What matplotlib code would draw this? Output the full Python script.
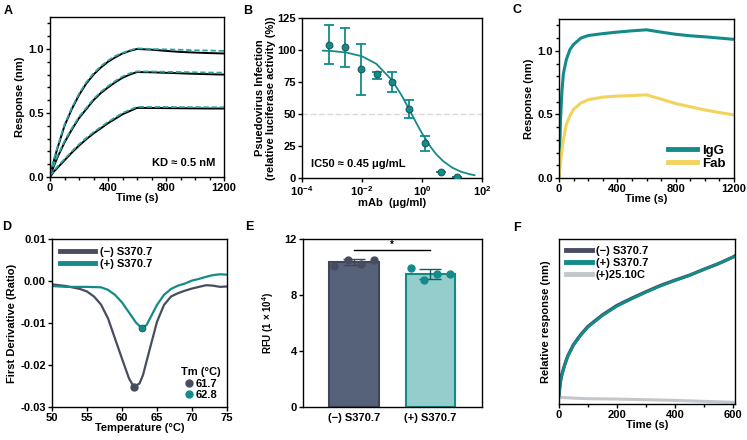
import numpy as np
import matplotlib
matplotlib.use("Agg")
import matplotlib.pyplot as plt
from matplotlib.lines import Line2D
from matplotlib.ticker import MultipleLocator

plt.rcParams['font.family'] = ['Liberation Sans', 'DejaVu Sans']
plt.rcParams['font.weight'] = 'bold'
plt.rcParams['axes.labelweight'] = 'bold'
plt.rcParams['font.size'] = 8
plt.rcParams['mathtext.fontset'] = 'custom'
plt.rcParams['mathtext.rm'] = 'Liberation Sans:bold'
plt.rcParams['mathtext.it'] = 'Liberation Sans:bold'
plt.rcParams['mathtext.bf'] = 'Liberation Sans:bold'
plt.rcParams['axes.linewidth'] = 1.0

TEAL = '#138b8a'
SLATE = '#474d5e'
FAB = '#f3d35c'
GREY = '#c2c7cb'
FS = 8

# ---- A: binding kinetics, data + fits
tA = [0, 25, 50, 100, 150, 200, 250, 300, 350, 400, 450, 500, 550, 600,
      700, 800, 900, 1000, 1100, 1200]
hi_data = [0, 0.12, 0.22, 0.40, 0.53, 0.64, 0.73, 0.80, 0.855, 0.90, 0.935, 0.965, 0.985, 1.0,
           0.995, 0.985, 0.977, 0.972, 0.968, 0.965]
hi_fit = [0.02, 0.13, 0.23, 0.41, 0.54, 0.65, 0.74, 0.81, 0.865, 0.91, 0.945, 0.97, 0.99, 1.005,
          1.0, 0.997, 0.994, 0.99, 0.988, 0.985]
mid_data = [0, 0.08, 0.15, 0.27, 0.37, 0.46, 0.53, 0.60, 0.655, 0.70, 0.74, 0.775, 0.80, 0.82,
            0.818, 0.814, 0.81, 0.806, 0.803, 0.80]
mid_fit = [0.02, 0.09, 0.16, 0.28, 0.38, 0.47, 0.54, 0.61, 0.665, 0.71, 0.75, 0.785, 0.81, 0.825,
           0.824, 0.822, 0.82, 0.818, 0.816, 0.815]
lo_data = [0, 0.04, 0.07, 0.13, 0.19, 0.245, 0.295, 0.34, 0.38, 0.42, 0.455, 0.49, 0.515, 0.54,
           0.539, 0.538, 0.537, 0.536, 0.535, 0.535]
lo_fit = [0.01, 0.045, 0.08, 0.14, 0.20, 0.255, 0.305, 0.35, 0.39, 0.43, 0.465, 0.50, 0.525, 0.548,
          0.547, 0.547, 0.546, 0.546, 0.545, 0.545]

# ---- B: neutralisation
conc = [8e-4, 2.7e-3, 9.3e-3, 0.032, 0.10, 0.37, 1.26, 4.3, 14.8]
infect = [104, 102, 85, 81, 75, 53.6, 27, 5, 1]
err_lo = [15, 15, 20, 4, 7.5, 7, 6, 0, 0]
err_hi = [15.5, 15, 20, 2, 7.5, 7.5, 5.5, 0, 0]
fit_x = [5e-4, 1e-3, 3e-3, 1e-2, 3e-2, 0.1, 0.2, 0.3, 0.45, 0.7, 1, 2, 3, 5, 10, 20, 40, 56]
fit_y = [99.5, 99.2, 98.0, 95.1, 89.2, 76.4, 65.3, 57.8, 50, 41.5, 34.9, 23.8, 18.5, 13.3,
         8.2, 4.9, 2.9, 2.2]

# ---- C: IgG vs Fab
tC = [0, 10, 20, 30, 50, 75, 100, 150, 200, 300, 400, 500, 600, 700, 800, 900, 1000, 1100, 1200]
igg = [0, 0.45, 0.68, 0.82, 0.93, 1.01, 1.05, 1.10, 1.12, 1.135, 1.147, 1.157, 1.165,
       1.147, 1.13, 1.118, 1.11, 1.10, 1.09]
fab = [0, 0.12, 0.22, 0.30, 0.42, 0.49, 0.54, 0.59, 0.615, 0.636, 0.644, 0.648, 0.654,
       0.62, 0.585, 0.56, 0.535, 0.515, 0.495]

# ---- D: thermal shift first derivative
tempD_neg = [50, 52, 54, 55, 56, 57, 58, 59, 60, 61, 61.7, 62.5, 63, 64, 65, 66, 67, 68,
             69, 70, 71, 72, 73, 74, 75]
deriv_neg = [-0.0008, -0.0012, -0.0019, -0.0025, -0.0037, -0.0056, -0.0089, -0.0137, -0.0185,
             -0.0232, -0.0252, -0.0244, -0.0224, -0.016, -0.0097, -0.0057, -0.0037, -0.0029,
             -0.0023, -0.0018, -0.0014, -0.001, -0.0011, -0.0014, -0.0013]
tempD_pos = [50, 52, 55, 57, 58, 59, 60, 61, 62, 62.8, 63.5, 64, 65, 66, 67, 68, 69, 70,
             71, 72, 73, 74, 75]
deriv_pos = [-0.0012, -0.0014, -0.0014, -0.0015, -0.0021, -0.0033, -0.0051, -0.0075, -0.0099,
             -0.0112, -0.0105, -0.0089, -0.0057, -0.0033, -0.0019, -0.0011, -0.0006, 0.0001,
             0.0005, 0.001, 0.0014, 0.0016, 0.0015]
tm_vals = [61.7, 62.8]
tm_depth = [-0.0252, -0.0112]

# ---- E: RFU bars
groups = ['(\u2212) S370.7', '(+) S370.7']
rfu_mean = [10.33, 9.48]
rfu_sd = [0.22, 0.37]
rfu_pts = [[10.07, 10.52, 10.21, 10.52], [9.90, 9.07, 9.47, 9.47]]

# ---- F: relative response
tF = [0, 5, 10, 20, 30, 50, 75, 100, 150, 200, 250, 300, 350, 400, 450, 500, 550, 600, 610]
resp_neg = [0.056, 0.137, 0.18, 0.24, 0.29, 0.36, 0.42, 0.47, 0.54, 0.597, 0.64, 0.68,
            0.718, 0.75, 0.78, 0.816, 0.85, 0.89, 0.90]
resp_pos = [0.056, 0.135, 0.178, 0.237, 0.287, 0.356, 0.416, 0.466, 0.536, 0.593, 0.636, 0.677,
            0.715, 0.748, 0.779, 0.815, 0.85, 0.889, 0.899]
tF_ctrl = [0, 100, 200, 300, 400, 500, 610]
resp_ctrl = [0.04, 0.032, 0.03, 0.026, 0.022, 0.016, 0.01]

W, H = 747, 440
fig = plt.figure(figsize=(W / 100, H / 100), dpi=100)


def ax_px(l, t, r, b):
    ax = fig.add_axes([l / W, 1 - b / H, (r - l) / W, (b - t) / H])
    ax.tick_params(direction='out', length=3, width=1.0, labelsize=FS, pad=1.5)
    ax.tick_params(which='minor', direction='out', length=2, width=1.0)
    return ax


# A
ax = ax_px(50, 17, 224, 177)
for d, f in [(hi_data, hi_fit), (mid_data, mid_fit), (lo_data, lo_fit)]:
    ax.plot(tA, d, color='black', lw=1.4)
    ax.plot(tA, f, color='#2fa5a3', lw=1.3, ls=(0, (3, 1.5)))
ax.set_xlim(0, 1200)
ax.set_ylim(0, 1.25)
ax.set_xticks([0, 400, 800, 1200])
ax.set_yticks([0, 0.5, 1.0])
ax.xaxis.set_minor_locator(MultipleLocator(100))
ax.yaxis.set_minor_locator(MultipleLocator(0.1))
ax.set_xlabel('Time (s)', fontsize=FS, labelpad=0)
ax.set_ylabel('Response (nm)', fontsize=FS, labelpad=2)
ax.text(0.95, 0.085, 'KD \u2248 0.5 nM', transform=ax.transAxes, ha='right', va='center', fontsize=FS)

# B
ax = ax_px(302, 18, 482, 178)
ax.axhline(50, color='#d9d9d9', lw=1, ls=(0, (4, 2)), zorder=0)
ax.plot(fit_x, fit_y, color=TEAL, lw=1.3)
ax.errorbar(conc, infect, yerr=[err_lo, err_hi], fmt='none', ecolor=TEAL, elinewidth=1.3,
            capsize=3.5, capthick=1.3)
ax.plot(conc, infect, 'o', color=TEAL, mec='#0c4f4e', mew=0.6, ms=5, zorder=4)
ax.set_xscale('log')
ax.set_xlim(1e-4, 1e2)
ax.set_ylim(0, 125)
ax.set_xticks([1e-4, 1e-2, 1, 1e2])
ax.set_xticklabels([r'$10^{-4}$', r'$10^{-2}$', r'$10^{0}$', r'$10^{2}$'])
ax.xaxis.set_minor_locator(matplotlib.ticker.NullLocator())
ax.set_yticks([0, 25, 50, 75, 100, 125])
ax.set_xlabel('mAb  (\u03bcg/ml)', fontsize=FS, labelpad=0)
ax.set_ylabel('Psuedovirus Infection\n(relative luciferase activity (%))', fontsize=FS,
              labelpad=1, linespacing=1.1)
ax.text(0.05, 0.09, 'IC50 \u2248 0.45 \u03bcg/mL', transform=ax.transAxes, ha='left', va='center',
        fontsize=FS)

# C
ax = ax_px(559, 19, 734, 178)
ax.plot(tC, igg, color=TEAL, lw=2.2, label='IgG')
ax.plot(tC, fab, color=FAB, lw=2.2, label='Fab')
ax.set_xlim(0, 1200)
ax.set_ylim(0, 1.25)
ax.set_xticks([0, 400, 800, 1200])
ax.set_yticks([0, 0.5, 1.0])
ax.xaxis.set_minor_locator(MultipleLocator(100))
ax.yaxis.set_minor_locator(MultipleLocator(0.1))
ax.set_xlabel('Time (s)', fontsize=FS, labelpad=0)
ax.set_ylabel('Response (nm)', fontsize=FS, labelpad=2)
leg = ax.legend(loc='lower right', frameon=False, fontsize=9.5, handlelength=2.2,
                handletextpad=0.4, borderaxespad=0.2, labelspacing=0.1)
for h in leg.get_lines():
    h.set_linewidth(3.5)

# D
ax = ax_px(52, 239, 227, 407)
ax.plot(tempD_neg, deriv_neg, color=SLATE, lw=1.6)
ax.plot(tempD_pos, deriv_pos, color=TEAL, lw=1.6)
ax.plot(tm_vals[0], tm_depth[0], 'o', color=SLATE, ms=5, zorder=4)
ax.plot(tm_vals[1], tm_depth[1], 'o', color=TEAL, mec='#0c4f4e', mew=0.5, ms=5, zorder=4)
ax.set_xlim(50, 75)
ax.set_ylim(-0.03, 0.01)
ax.set_xticks([50, 55, 60, 65, 70, 75])
ax.set_yticks([0.01, 0, -0.01, -0.02, -0.03])
ax.set_yticklabels(['0.01', '0.00', '-0.01', '-0.02', '-0.03'])
ax.set_xlabel('Temperature (\u00b0C)', fontsize=FS, labelpad=0)
ax.set_ylabel('First Derivative (Ratio)', fontsize=FS, labelpad=2)
h1 = [Line2D([], [], color=SLATE, lw=3.5), Line2D([], [], color=TEAL, lw=3.5)]
l1 = ax.legend(h1, ['(\u2212) S370.7', '(+) S370.7'], loc='upper left', frameon=False,
               fontsize=FS, handlelength=3.2, handletextpad=0.4, borderaxespad=0.3,
               labelspacing=0.2)
ax.add_artist(l1)
h2 = [Line2D([], [], ls='none', marker='o', color=SLATE, ms=5),
      Line2D([], [], ls='none', marker='o', color=TEAL, ms=5)]
l2 = ax.legend(h2, ['%.1f' % v for v in tm_vals], loc='lower right', frameon=False,
               fontsize=FS, title='Tm (\u00b0C)', title_fontsize=FS, handlelength=0.8,
               handletextpad=0.2, borderaxespad=0.2, labelspacing=0.15)
l2.get_title().set_fontweight('bold')

# E
ax = ax_px(303, 239, 482, 407)
xpos = np.arange(len(groups))
ax.bar(xpos, rfu_mean, width=0.65, color=['#56627a', '#94cdcb'],
       edgecolor=['#3e4659', TEAL], linewidth=1.5, zorder=1)
for i in range(len(groups)):
    ax.errorbar(xpos[i], rfu_mean[i], yerr=rfu_sd[i], fmt='none',
                ecolor=['#3e4659', '#0e5f5e'][i], elinewidth=1.0, capsize=8, capthick=1.0, zorder=3)
    ax.plot(xpos[i] + np.linspace(-0.26, 0.26, 4), rfu_pts[i], 'o',
            color=[SLATE, TEAL][i], ms=5, zorder=4)
ax.plot([0, 1], [11.25, 11.25], color='black', lw=1)
ax.text(0.5, 11.2, '*', ha='center', va='bottom', fontsize=7)
ax.set_xlim(-0.67, 1.675)
ax.set_ylim(0, 12)
ax.set_yticks([0, 4, 8, 12])
ax.set_xticks(xpos)
ax.set_xticklabels(groups, fontsize=FS)
ax.tick_params(axis='x', length=0, pad=4)
ax.set_ylabel('RFU (1 \u00d7 10$^4$)', fontsize=7, labelpad=6)

# F
ax = ax_px(559, 239, 735, 404)
ax.plot(tF_ctrl, resp_ctrl, color=GREY, lw=2.2, label='(+)25.10C')
ax.plot(tF, resp_neg, color=SLATE, lw=2.4, label='(\u2212) S370.7')
ax.plot(tF, resp_pos, color=TEAL, lw=2.0, label='(+) S370.7')
ax.set_xlim(0, 608)
ax.set_ylim(0, 1)
ax.set_yticks([])
ax.set_xticks([0, 200, 400, 600])
ax.xaxis.set_minor_locator(MultipleLocator(100))
ax.set_xlabel('Time (s)', fontsize=FS, labelpad=0)
ax.set_ylabel('Relative response (nm)', fontsize=FS, labelpad=6)
hs = [Line2D([], [], color=SLATE, lw=3.5), Line2D([], [], color=TEAL, lw=3.5),
      Line2D([], [], color=GREY, lw=3.5)]
ax.legend(hs, ['(\u2212) S370.7', '(+) S370.7', '(+)25.10C'], loc='upper left', frameon=False,
          fontsize=FS, handlelength=2.4, handletextpad=0.3, borderaxespad=0.2, labelspacing=0.2)

# panel letters
for lab, x, y in [('A', 8, 11), ('B', 248, 11), ('C', 517, 10), ('D', 7, 227),
                  ('E', 249, 227), ('F', 517, 228)]:
    fig.text(x / W, 1 - y / H, lab, fontsize=9, fontweight='bold', ha='center', va='center')

fig.savefig('out.png', dpi=100)
